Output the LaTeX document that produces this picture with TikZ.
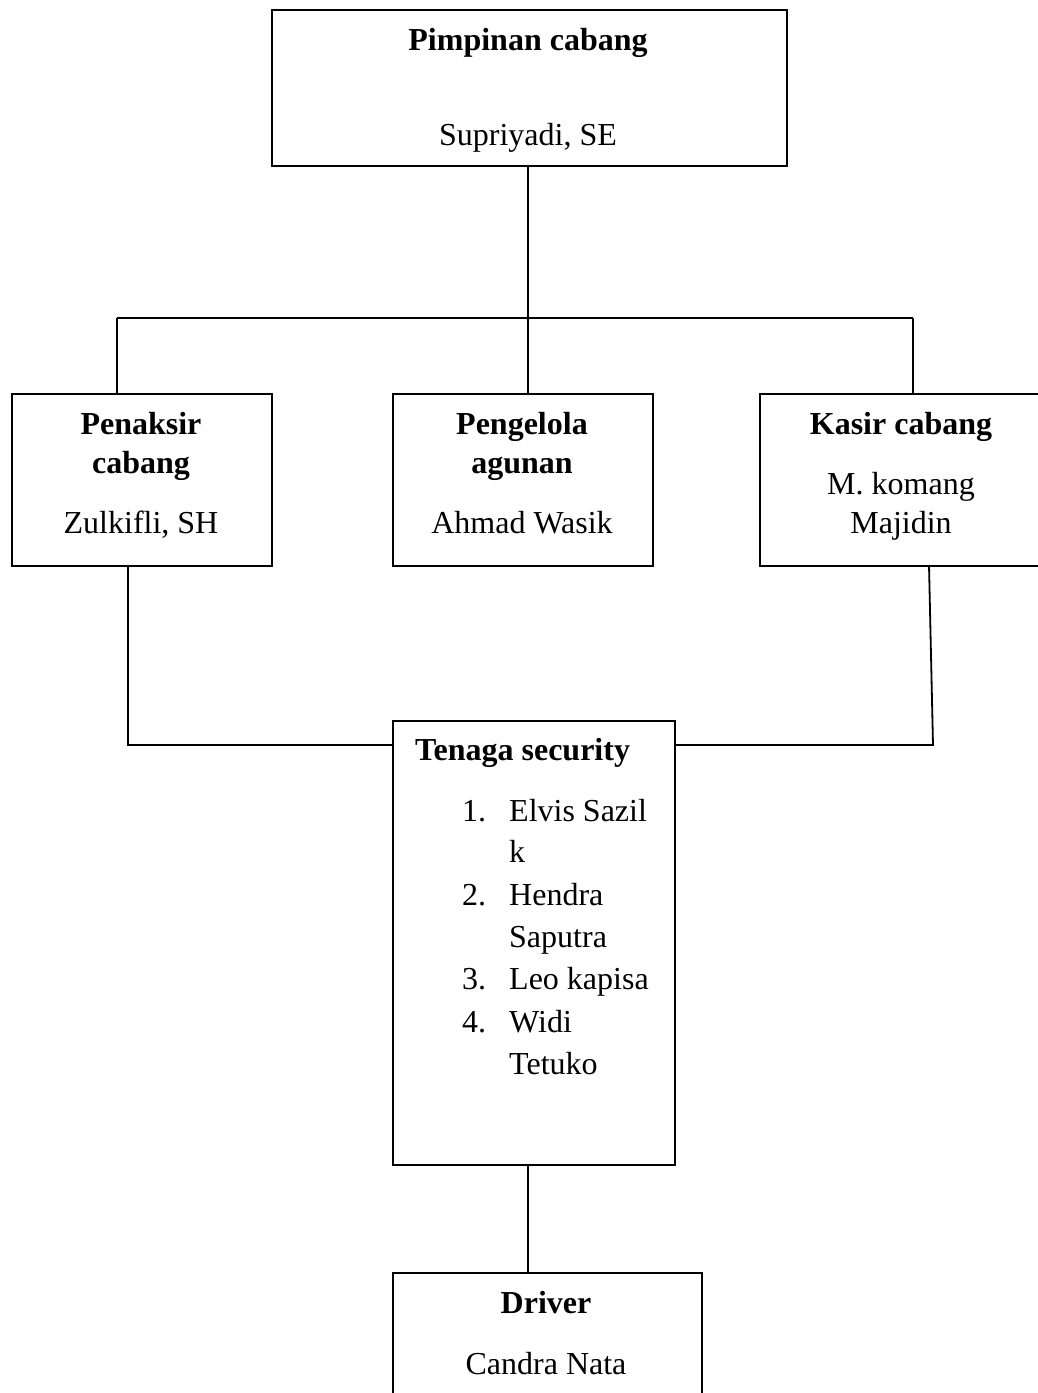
\documentclass[tikz,border=0pt]{standalone}
\usepackage{fontspec}
\setmainfont{Liberation Serif}
\begin{document}
\begin{tikzpicture}[x=1pt,y=-1pt,
  box/.style={draw, line width=1.8pt, inner sep=0pt, anchor=north west},
  conn/.style={line width=1.8pt},
  ttl/.style={font=\fontsize{32}{42}\selectfont\bfseries, anchor=base, inner sep=0pt},
  txt/.style={font=\fontsize{32}{42}\selectfont, anchor=base, inner sep=0pt},
  lst/.style={font=\fontsize{32}{42}\selectfont, anchor=base west, inner sep=0pt}]
\useasboundingbox (0,0) rectangle (1037,1393);
% boxes
\node[box, minimum width=515pt, minimum height=156pt] (top) at (271,9) {};
\node[box, minimum width=260pt, minimum height=172pt] (pen) at (11,393) {};
\node[box, minimum width=260pt, minimum height=172pt] (peng) at (392,393) {};
\node[box, minimum width=290pt, minimum height=172pt] (kas) at (759,393) {};
\node[box, minimum width=282pt, minimum height=444pt] (sec) at (392,720) {};
\node[box, minimum width=309pt, minimum height=150pt] (drv) at (392,1272) {};
% texts
\node[ttl] (t1) at (528,50) {Pimpinan cabang};
\node[txt] (t2) at (528,145) {Supriyadi, SE};
\node[ttl] (p1) at (141,434) {Penaksir};
\node[ttl] (p2) at (141,473) {cabang};
\node[txt] (p3) at (141,533) {Zulkifli, SH};
\node[ttl] (g1) at (522,434) {Pengelola};
\node[ttl] (g2) at (522,473) {agunan};
\node[txt] (g3) at (522,533) {Ahmad Wasik};
\node[ttl] (k1) at (901,434) {Kasir cabang};
\node[txt] (k2) at (901,494) {M. komang};
\node[txt] (k3) at (901,533) {Majidin};
\node[ttl, anchor=base west] (s0) at (415,760) {Tenaga security};
\node[lst] (n1) at (462,821) {1.};
\node[lst] (i1) at (509,821) {Elvis Sazil};
\node[lst] (i1b) at (509,862) {k};
\node[lst] (n2) at (462,905) {2.};
\node[lst] (i2) at (509,905) {Hendra};
\node[lst] (i2b) at (509,947) {Saputra};
\node[lst] (n3) at (462,989) {3.};
\node[lst] (i3) at (509,989) {Leo kapisa};
\node[lst] (n4) at (462,1032) {4.};
\node[lst] (i4) at (509,1032) {Widi};
\node[lst] (i4b) at (509,1074) {Tetuko};
\node[ttl] (d1) at (546,1313) {Driver};
\node[txt] (d2) at (546,1374) {Candra Nata};
% connectors
\coordinate (j) at (528,318);
\coordinate (bl) at (117,318);
\coordinate (br) at (913,318);
\draw[conn] (j |- top.south) -- (j);
\draw[conn] (bl) -- (br);
\draw[conn] (bl) -- (bl |- pen.north);
\draw[conn] (j) -- (j |- peng.north);
\draw[conn] (br) -- (br |- kas.north);
\coordinate (lc) at (128,745);
\draw[conn] (lc |- pen.south) -- (lc) -- (lc -| sec.west);
\coordinate (rt) at (929,565);
\coordinate (rc) at (933,745);
\draw[conn] (rt) -- (rc) -- (rc -| sec.east);
\draw[conn] (j |- sec.south) -- (j |- drv.north);
\end{tikzpicture}
\end{document}
